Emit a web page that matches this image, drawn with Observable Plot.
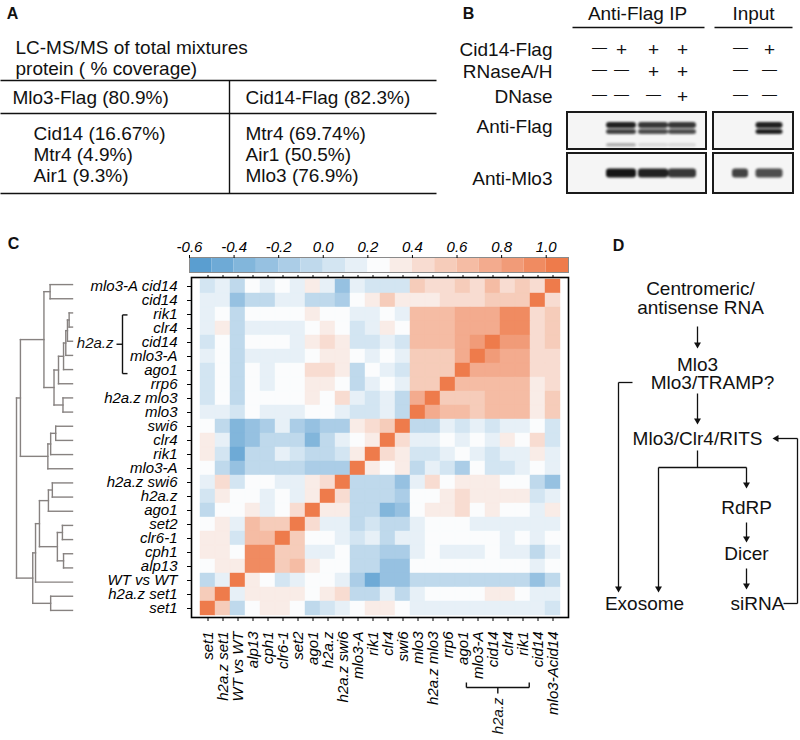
<!DOCTYPE html>
<html><head><meta charset="utf-8">
<script src="https://cdn.jsdelivr.net/npm/d3@7"></script>
<script src="https://cdn.jsdelivr.net/npm/@observablehq/plot@0.6"></script>
<style>
html,body{margin:0;padding:0;background:#fff;}
#root{position:relative;width:800px;height:740px;overflow:hidden;background:#fff;}
#root > div{position:absolute;}
#root svg{overflow:visible;}
</style></head><body><div id="root"></div>
<script>
// ---------- DATA ----------
// Panel A
const mlo3Proteins = ["Cid14", "Mtr4", "Air1"];
const mlo3Coverage = ["16.67", "4.9", "9.3"];
const cid14Proteins = ["Mtr4", "Air1", "Mlo3"];
const cid14Coverage = ["69.74", "50.5", "76.9"];
const baitNames = ["Mlo3-Flag", "Cid14-Flag"];
const baitCoverage = ["80.9", "82.3"];

// Panel B (lanes: 4 Anti-Flag IP lanes, 2 input lanes)
const conditionRows = ["Cid14-Flag", "RNaseA/H", "DNase"];
const cid14Flag = ["-", "+", "+", "+", "-", "+"];
const rnaseAH   = ["-", "-", "+", "+", "-", "-"];
const dnase     = ["-", "-", "-", "+", "-", "-"];
const flagUpper = [0, 0.95, 0.85, 0.85, 0, 0.95];
const flagLower = [0, 0.8, 0.75, 0.75, 0, 0.95];
const flagFaint = [0, 0.3, 0.12, 0.12, 0, 0];
const mlo3Band  = [0, 1.0, 0.95, 0.85, 0.8, 0.75];

// Panel C
const rowLabels = ["mlo3-A cid14","cid14","rik1","clr4","cid14","mlo3-A","ago1","rrp6","h2a.z mlo3","mlo3","swi6","clr4","rik1","mlo3-A","h2a.z swi6","h2a.z","ago1","set2","clr6-1","cph1","alp13","WT vs WT","h2a.z set1","set1"];
const colLabels = ["set1","h2a.z set1","WT vs WT","alp13","cph1","clr6-1","set2","ago1","h2a.z","h2a.z swi6","mlo3-A","rik1","clr4","swi6","mlo3","h2a.z mlo3","rrp6","ago1","mlo3-A","cid14","clr4","rik1","cid14","mlo3-Acid14"];
const corr = [
 [0.05,0.15,-0.05,0.25,0.15,0.25,0.15,0.35,0.15,-0.25,0.15,0.05,0.05,0.05,0.55,0.45,0.45,0.55,0.45,0.65,0.45,0.55,0.45,1.0], // mlo3-A cid14
 [0.15,0.15,-0.25,-0.05,-0.05,0.15,0.15,-0.05,-0.05,-0.15,0.25,0.35,0.55,0.35,0.35,0.35,0.45,0.45,0.45,0.55,0.55,0.55,1.0,0.45], // cid14
 [0.15,0.25,-0.05,0.25,0.25,0.25,0.25,0.35,0.25,0.25,0.15,0.15,0.25,0.15,0.65,0.65,0.65,0.75,0.75,0.75,0.95,0.95,0.45,0.55], // h2a.z rik1
 [0.15,0.35,-0.05,0.15,0.15,0.15,0.15,0.25,0.35,0.25,0.05,0.15,0.35,0.25,0.65,0.65,0.65,0.75,0.75,0.75,0.95,0.95,0.45,0.55], // h2a.z clr4
 [0.05,0.25,-0.05,0.25,0.25,0.25,0.15,0.35,0.45,0.35,0.05,0.05,0.15,0.05,0.65,0.65,0.65,0.75,0.85,1.0,0.85,0.85,0.45,0.55], // h2a.z cid14
 [0.15,0.25,-0.05,0.15,0.15,0.15,0.15,0.25,0.35,0.35,0.25,0.15,0.25,0.15,0.55,0.55,0.55,0.75,1.0,0.85,0.75,0.75,0.45,0.45], // h2a.z mlo3-A
 [0.05,0.25,-0.05,0.25,0.15,0.25,0.25,0.45,0.45,0.35,-0.05,0.25,0.15,0.05,0.55,0.55,0.55,1.0,0.75,0.75,0.75,0.75,0.45,0.45], // h2a.z ago1
 [0.05,0.25,-0.05,0.25,0.15,0.25,0.25,0.35,0.35,0.25,-0.05,0.15,0.25,0.15,0.55,0.55,1.0,0.65,0.65,0.65,0.65,0.65,0.35,0.45], // rrp6
 [0.05,0.25,-0.05,0.25,0.25,0.25,0.25,0.35,0.25,0.45,0.15,0.05,0.15,-0.05,0.75,1.0,0.55,0.55,0.55,0.65,0.65,0.65,0.35,0.55], // h2a.z mlo3
 [0.15,0.15,0.05,0.25,0.15,0.15,0.15,0.25,0.25,0.15,0.05,0.05,0.15,-0.05,1.0,0.75,0.65,0.65,0.55,0.65,0.65,0.65,0.35,0.55], // mlo3
 [0.25,-0.05,-0.35,-0.25,-0.15,0.15,-0.15,-0.25,-0.15,-0.15,0.35,0.45,0.55,1.0,-0.05,-0.05,0.15,0.05,0.15,0.05,0.15,0.15,0.25,0.05], // swi6
 [0.35,0.15,-0.35,-0.25,-0.05,-0.05,-0.05,-0.35,-0.05,0.15,0.25,0.35,1.0,0.45,0.15,0.15,0.25,0.15,0.25,0.15,0.35,0.25,0.45,0.05], // clr4
 [0.35,0.05,-0.45,-0.05,-0.05,0.15,0.05,-0.05,-0.05,0.05,0.35,1.0,0.45,0.35,0.05,0.05,0.15,0.25,0.15,0.05,0.15,0.15,0.35,0.15], // rik1
 [0.25,-0.05,-0.25,-0.05,-0.05,-0.05,-0.05,-0.15,-0.15,-0.15,1.0,0.35,0.25,0.35,-0.05,0.15,0.05,-0.15,0.25,0.05,0.05,0.15,0.25,0.15], // mlo3-A
 [0.15,0.45,0.05,0.25,0.25,0.15,0.15,0.35,0.45,1.0,-0.05,-0.05,-0.05,-0.25,0.15,0.45,0.25,0.35,0.35,0.35,0.25,0.25,-0.05,-0.25], // h2a.z swi6
 [0.05,0.35,0.25,0.25,0.15,0.25,0.15,0.35,1.0,0.45,-0.05,-0.05,-0.05,-0.15,0.25,0.25,0.35,0.45,0.35,0.35,0.35,0.35,0.05,0.15], // h2a.z
 [-0.05,0.25,0.25,0.35,0.15,0.25,0.45,1.0,0.35,0.35,-0.05,-0.05,-0.35,-0.25,0.25,0.35,0.35,0.45,0.25,0.35,0.25,0.25,0.15,0.35], // ago1
 [0.25,0.35,0.15,0.65,0.55,0.55,1.0,0.45,0.15,0.15,-0.05,0.05,-0.05,-0.05,0.15,0.25,0.25,0.25,0.15,0.15,0.15,0.15,0.15,0.15], // set2
 [0.35,0.35,0.05,0.65,0.65,1.0,0.55,0.25,0.25,0.15,0.05,0.15,-0.05,0.15,0.15,0.25,0.25,0.25,0.25,0.25,0.15,0.25,0.15,0.25], // clr6-1
 [0.35,0.35,0.25,0.95,0.95,0.55,0.55,0.15,0.15,0.25,-0.05,-0.05,-0.15,-0.15,0.15,0.25,0.15,0.15,0.15,0.25,0.15,0.15,-0.05,0.15], // cph1
 [0.25,0.35,0.35,0.95,0.95,0.55,0.65,0.35,0.25,0.25,-0.05,-0.05,-0.25,-0.25,0.25,0.25,0.25,0.25,0.25,0.25,0.25,0.25,0.15,0.25], // alp13
 [-0.05,0.15,1.0,0.35,0.25,0.05,0.15,0.25,0.25,0.15,-0.15,-0.45,-0.3,-0.3,-0.05,-0.05,-0.05,-0.05,-0.05,-0.05,-0.05,-0.05,-0.25,-0.05], // WT vs WT
 [0.55,1.0,0.15,0.35,0.35,0.35,0.35,0.25,0.35,0.45,-0.05,-0.05,0.15,-0.05,0.15,0.25,0.25,0.25,0.25,0.35,0.35,0.25,0.15,0.15], // h2a.z set1
 [1.0,0.55,-0.05,0.25,0.35,0.35,0.25,-0.05,0.05,0.15,0.25,0.35,0.35,0.25,0.15,0.15,0.15,0.15,0.15,0.15,0.15,0.15,0.15,0.05]  // set1
];
// hierarchical clustering of rows: [childA, childB, merge distance]; leaves 0-23, merge k gets id 24+k
const linkage = [
 [2, 3, 0.06], [24, 4, 0.09], [25, 5, 0.12], [26, 6, 0.16], [27, 7, 0.25],
 [8, 9, 0.17], [28, 29, 0.33], [0, 1, 0.40], [31, 30, 0.51],
 [10, 11, 0.30], [33, 12, 0.39], [34, 13, 0.44], [32, 35, 0.93],
 [14, 15, 0.36], [37, 16, 0.43], [17, 18, 0.18], [19, 20, 0.16], [39, 40, 0.27],
 [38, 41, 0.59], [42, 21, 0.66], [22, 23, 0.39], [43, 44, 0.71], [36, 45, 1.0]
];
const colorTicks = [-0.6, -0.4, -0.2, 0.0, 0.2, 0.4, 0.6, 0.8, 1.0];

// Panel D
const pathwayNodes = ["Centromeric/", "antisense RNA", "Mlo3", "Mlo3/TRAMP?", "Mlo3/Clr4/RITS", "RdRP", "Dicer", "Exosome", "siRNA"];

// ---------- STYLE / LAYOUT ----------
const FONT = '"Liberation Sans", Arial, Helvetica, sans-serif';
const FS = 19;
const root = document.getElementById("root");
function place(node, left, top) {
  const d = document.createElement("div");
  d.style.left = left + "px"; d.style.top = top + "px";
  d.appendChild(node); root.appendChild(d);
}
const binEdges = d3.range(18).map(k => Math.round((-6 + k)) / 10);
const thresholds = binEdges.slice(1, 17);
const blue = "#5a9ed0", white = "#fbfcfd", orange = "#ee7b4b";
const palette = d3.range(17).map(k => k <= 8 ? d3.interpolateRgb(blue, white)(k / 8) : d3.interpolateRgb(white, orange)((k - 8) / 8));
const colorScale = {type: "threshold", domain: thresholds, range: palette};

// heatmap geometry (page coords)
const HM = {left: 191, right: 568, top: 277, bottom: 617};
const PT = 200; // top of heatmap svg
const rowY = i => HM.top + (i + 0.5) * (HM.bottom - HM.top) / 24;
const colX = c => HM.left + (c + 0.5) * (HM.right - HM.left) / 24;

// ---------- PANEL C: heatmap ----------
const cells = corr.flatMap((row, r) => row.map((v, c) => ({r, c, v})));
const heat = Plot.plot({
  width: 590, height: 540,
  marginLeft: HM.left, marginRight: 590 - HM.right, marginTop: HM.top - PT, marginBottom: PT + 540 - HM.bottom,
  style: {fontFamily: FONT, fontSize: "15px", fontStyle: "italic", background: "transparent", color: "#000"},
  x: {type: "band", domain: d3.range(24), padding: 0},
  y: {type: "band", domain: d3.range(24), padding: 0},
  color: colorScale,
  marks: [
    Plot.cell(cells, {x: "c", y: "r", fill: "v", stroke: "v", strokeWidth: 0.4, inset: 0}),
    Plot.frame({stroke: "#000", strokeWidth: 1.6}),
    Plot.axisY({tickFormat: i => rowLabels[i], tickSize: 4, tickPadding: 10, label: null}),
    Plot.axisX({anchor: "bottom", tickFormat: i => colLabels[i], tickRotate: -90, tickSize: 4, tickPadding: 10, label: null}),
    Plot.axisX({anchor: "top", tickFormat: () => "", tickSize: 3, label: null})
  ]
});
place(heat, 0, PT);

// dendrogram
const nodes = d3.range(24).map(i => ({y: i, h: 0}));
const segs = [];
linkage.forEach(([a, b, h], k) => {
  const A = nodes[a], B = nodes[b];
  segs.push({x1: A.h, y1: A.y, x2: h, y2: A.y});
  segs.push({x1: B.h, y1: B.y, x2: h, y2: B.y});
  segs.push({x1: h, y1: A.y, x2: h, y2: B.y});
  nodes[24 + k] = {y: (A.y + B.y) / 2, h};
});
const dendro = Plot.plot({
  width: 80, height: 540, marginLeft: 16, marginRight: 8,
  marginTop: HM.top - PT, marginBottom: PT + 540 - HM.bottom,
  style: {background: "transparent"},
  x: {domain: [1, 0], axis: null},
  y: {domain: [-0.5, 23.5], reverse: true, axis: null},
  marks: [Plot.link(segs, {x1: "x1", y1: "y1", x2: "x2", y2: "y2", stroke: "#878280", strokeWidth: 1.4, strokeLinecap: "square"})]
});
place(dendro, 0, PT);

// colour bar
const bins = d3.range(17).map(i => ({lo: binEdges[i], hi: binEdges[i + 1], mid: (binEdges[i] + binEdges[i + 1]) / 2}));
const cbar = Plot.plot({
  width: 450, height: 50, marginLeft: 39, marginRight: 32, marginTop: 32, marginBottom: 3,
  style: {fontFamily: FONT, fontSize: "15px", fontStyle: "italic", background: "transparent", color: "#000"},
  x: {domain: [-0.6, 1.1]},
  color: colorScale,
  marks: [
    Plot.rect(bins, {x1: "lo", x2: "hi", fill: "mid"}),
    Plot.frame({stroke: "#8a8a8a", strokeWidth: 1}),
    Plot.axisX({anchor: "top", ticks: colorTicks, tickFormat: d => d.toFixed(1), tickSize: 3, tickPadding: 3, label: null})
  ]
});
place(cbar, 150, 225);

// ---------- OVERLAY: panels A, B, D, brackets, letters ----------
const texts = [];
const links = [];
function T(t, x, y, o = {}) { texts.push(Object.assign({t, x, y, anchor: "middle", size: FS, weight: "normal", style: "normal", rot: 0}, o)); }
function L(x1, y1, x2, y2, w = 1.3) { links.push({x1, y1, x2, y2, w}); }

// letters
T("A", 12, 13, {weight: "bold", size: 16});
T("B", 468, 13, {weight: "bold", size: 16});
T("C", 13, 243, {weight: "bold", size: 16});
T("D", 618, 245, {weight: "bold", size: 16});

// Panel A
T("LC-MS/MS of total mixtures", 15, 47, {anchor: "start"});
T("protein ( % coverage)", 15, 68, {anchor: "start"});
T(`${baitNames[0]} (${baitCoverage[0]}%)`, 12, 97, {anchor: "start"});
T(`${baitNames[1]} (${baitCoverage[1]}%)`, 245, 97, {anchor: "start"});
mlo3Proteins.forEach((p, i) => T(`${p} (${mlo3Coverage[i]}%)`, 33, 133 + i * 21, {anchor: "start"}));
cid14Proteins.forEach((p, i) => T(`${p} (${cid14Coverage[i]}%)`, 245, 133 + i * 21, {anchor: "start"}));
L(0, 80, 436, 80, 1.4); L(0, 113, 436, 113, 1.4); L(0, 193, 436, 193, 1.4); L(229, 80, 229, 193, 1.4);

// Panel B
const laneX = [599, 621, 653, 682, 740, 769];
const laneW = [28, 30, 30, 28, 16, 27];
T("Anti-Flag IP", 637, 13); T("Input", 753, 13);
L(572, 27, 704, 27, 1.4); L(714, 27, 792, 27, 1.4);
const condY = [49, 71, 96];
conditionRows.forEach((c, i) => T(c, 552, condY[i], {anchor: "end"}));
[cid14Flag, rnaseAH, dnase].forEach((arr, ri) => arr.forEach((s, li) => {
  if (s === "+") T("+", laneX[li], condY[ri]);
  else T("\u2014", laneX[li], condY[ri] - 2, {size: 15});
}));
T("Anti-Flag", 552, 126, {anchor: "end"});
T("Anti-Mlo3", 552, 178, {anchor: "end"});
const blots = [{x1: 567, x2: 706, y1: 112, y2: 149}, {x1: 713, x2: 793, y1: 112, y2: 149},
               {x1: 567, x2: 706, y1: 153, y2: 193}, {x1: 713, x2: 793, y1: 153, y2: 193}];
const bands = [];
function addBands(levels, y1, y2) { levels.forEach((lv, i) => { if (lv > 0) bands.push({x1: laneX[i] - laneW[i] / 2, x2: laneX[i] + laneW[i] / 2, y1, y2, lv}); }); }
addBands(flagUpper, 122, 128);
addBands(flagLower, 129, 134);
addBands(flagFaint, 143, 146.5);
addBands(mlo3Band, 168.5, 177.5);

// Panel D
T(pathwayNodes[0], 700, 288); T(pathwayNodes[1], 700, 307);
T(pathwayNodes[2], 697, 364); T(pathwayNodes[3], 712, 382);
T(pathwayNodes[4], 697, 438);
T(pathwayNodes[5], 746, 507); T(pathwayNodes[6], 746, 553);
T(pathwayNodes[7], 644, 603); T(pathwayNodes[8], 757, 603);
L(697, 326, 697, 343); L(632, 382, 618, 382); L(618, 382, 618, 587);
L(697, 393, 697, 419);
L(697, 450, 697, 467); L(658, 467, 746, 467); L(658, 467, 658, 587); L(746, 467, 746, 483);
L(746, 522, 746, 537); L(746, 568, 746, 584);
L(783, 603, 797, 603); L(797, 603, 797, 438); L(797, 438, 777, 438);
const heads = [{x: 697, y: 344, r: 180}, {x: 618, y: 588, r: 180}, {x: 697, y: 420, r: 180}, {x: 658, y: 588, r: 180},
               {x: 746, y: 484, r: 180}, {x: 746, y: 538, r: 180}, {x: 746, y: 585, r: 180}, {x: 776, y: 438, r: -90}];

// heatmap brackets (h2a.z)
const bx = 122;
L(bx, rowY(2) + 2, bx, rowY(6) + 4, 1.4); L(bx, rowY(2) + 2, bx + 5, rowY(2) + 2, 1.4); L(bx, rowY(6) + 4, bx + 5, rowY(6) + 4, 1.4);
L(bx, rowY(4) + 3, bx - 6, rowY(4) + 3, 1.4);
T("h2a.z", 113, rowY(4) + 2, {anchor: "end", size: 15, style: "italic"});
const by = 687;
L(colX(17), by, colX(21), by, 1.4); L(colX(17), by, colX(17), by - 5, 1.4); L(colX(21), by, colX(21), by - 5, 1.4);
L(colX(19), by, colX(19), by + 6, 1.4);
T("h2a.z", colX(19), 697, {anchor: "end", size: 15, style: "italic", rot: -90});

const overlay = Plot.plot({
  width: 800, height: 740, margin: 0,
  style: {fontFamily: FONT, background: "transparent", color: "#111"},
  x: {domain: [0, 800], axis: null},
  y: {domain: [0, 740], range: [0, 740], axis: null},
  marks: [
    Plot.rect(blots, {x1: "x1", x2: "x2", y1: "y1", y2: "y2", fill: "#f5f5f5"}),
    Plot.rect(bands, {x1: "x1", x2: "x2", y1: "y1", y2: "y2", fill: "#151515", fillOpacity: "lv", rx: 3, ariaLabel: "bands", imageFilter: "blur(1.1px)"}),
    Plot.rect(blots, {x1: "x1", x2: "x2", y1: "y1", y2: "y2", fill: "none", stroke: "#1a1a1a", strokeWidth: 2}),
    Plot.link(links, {x1: "x1", y1: "y1", x2: "x2", y2: "y2", stroke: "#111", strokeWidth: "w"}),
    Plot.dot(heads, {x: "x", y: "y", rotate: "r", symbol: "triangle2", r: 3.3, fill: "#111", stroke: null}),
    ...["start", "middle", "end"].flatMap(a => ["normal", "italic"].flatMap(st => ["normal", "bold"].map(w =>
      Plot.text(texts.filter(d => d.anchor === a && d.style === st && d.weight === w), {
        x: "x", y: "y", text: "t", textAnchor: a, fontStyle: st, fontWeight: w, fontSize: "size", rotate: "rot", fill: "#111"
      }))))
  ]
});
place(overlay, 0, 0);
</script></body></html>
